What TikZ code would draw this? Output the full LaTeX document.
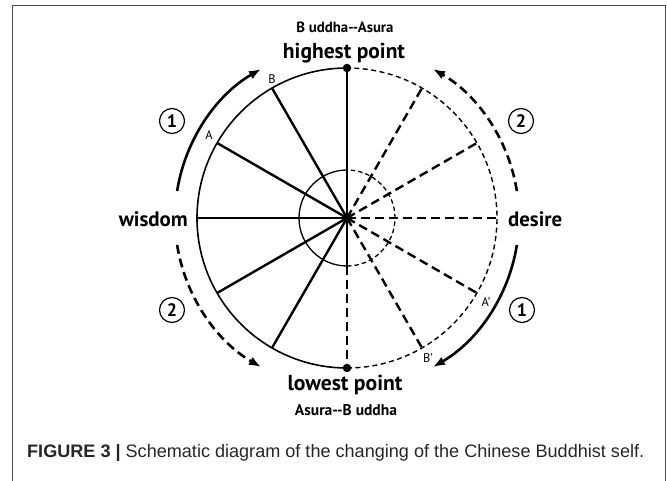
\documentclass[tikz,border=0pt]{standalone}
\usepackage{fontspec}
\usepackage{graphicx}
\setmainfont{PT Sans}
\newfontfamily\capfont{Liberation Sans}
\usetikzlibrary{arrows.meta}
\newcommand{\fitw}[2]{\resizebox{#1}{!}{#2}}
\begin{document}
\begin{tikzpicture}[x=1pt,y=1pt,
  solidspoke/.style={line width=2.4pt},
  dashspoke/.style={line width=2.4pt, dash pattern=on 9pt off 5pt},
  rim/.style={line width=1.6pt},
  dashrim/.style={line width=1.4pt, dash pattern=on 5pt off 3.5pt},
  innerrim/.style={line width=1.3pt},
  flow/.style={line width=2.6pt, -{Latex[length=12pt,width=9pt]}},
  dashflow/.style={line width=2.6pt, dash pattern=on 9pt off 5pt, -{Latex[length=12pt,width=9pt]}},
  bigtext/.style={font=\bfseries\fontsize{18}{20}\selectfont, inner sep=0pt},
  smalltext/.style={font=\bfseries\fontsize{11.5}{13}\selectfont, inner sep=0pt},
  ptlabel/.style={font=\fontsize{12.5}{13}\selectfont, inner sep=0pt},
  circnum/.style={circle, draw, line width=1.2pt, minimum size=25pt, inner sep=0pt, font=\bfseries\fontsize{18}{19}\selectfont},
  dotnode/.style={circle, fill, minimum size=8.5pt, inner sep=0pt},
  framecol/.style={draw=black!70, line width=1pt}
]
\useasboundingbox (0,0) rectangle (667,480);
\draw[framecol] (12,-2) -- (12,474) -- (665,474) -- (665,-2);

\coordinate (C) at (347,262);
\foreach \a in {90,120,150,180,210,240,270,60,30,0,-30,-60}{
  \path (C) ++(\a:150) coordinate (P\a);
}
\path (C) ++(270:48) coordinate (I270);
\path (C) ++(90:48) coordinate (I90);

% rims
\draw[rim] (P90) arc[start angle=90, end angle=270, radius=150];
\draw[dashrim] (P270) arc[start angle=-90, end angle=90, radius=150];
\draw[innerrim] (I90) arc[start angle=90, end angle=270, radius=48];
\draw[innerrim, dash pattern=on 4.5pt off 3pt] (I270) arc[start angle=-90, end angle=90, radius=48];

% spokes
\foreach \a in {90,120,150,180,210,240}{
  \draw[solidspoke] (C) -- (P\a);
}
\draw[solidspoke] (C) -- (I270);
\draw[dashspoke] (I270) -- (P270);
\foreach \a in {60,30,0,-30,-60}{
  \draw[dashspoke] (C) -- (P\a);
}

% dots
\node[dotnode] (top) at (P90) {};
\node[dotnode] (bottom) at (P270) {};

% flow arrows
\path (C) ++(171:172) coordinate (L1s);
\path (C) ++(189:172) coordinate (L2s);
\path (C) ++(9:172) coordinate (R2s);
\path (C) ++(-9:172) coordinate (R1s);
\draw[flow] (L1s) arc[start angle=171, end angle=120, radius=172];
\draw[dashflow] (L2s) arc[start angle=189, end angle=240, radius=172];
\draw[dashflow] (R2s) arc[start angle=9, end angle=60, radius=172];
\draw[flow] (R1s) arc[start angle=-9, end angle=-60, radius=172];

% circled numbers
\node[circnum] (n1l) at (172,359) {1};
\node[circnum] (n2r) at (521,359) {2};
\node[circnum] (n2l) at (172,170) {2};
\node[circnum] (n1r) at (522,170) {1};

% point labels
\node[ptlabel] (lB) at (272,401) {B};
\node[ptlabel] (lA) at (209,345) {A};
\node[ptlabel] (lA2) at (486,178) {A’};
\node[ptlabel] (lB2) at (428,122) {B’};

% texts
\node[smalltext, anchor=base] (ba) at (345,447) {\fitw{97pt}{B uddha{-}{-}Asura}};
\node[bigtext, anchor=base] (hp) at (344,421) {\fitw{122pt}{highest point}};
\node[bigtext, anchor=base] (lp) at (345,90) {\fitw{115pt}{lowest point}};
\node[smalltext, anchor=base] (ab) at (346,65) {\fitw{102pt}{Asura{-}{-}B uddha}};
\node[bigtext, anchor=base east] (wis) at (188,253) {\fitw{69pt}{wisdom}};
\node[bigtext, anchor=base west] (des) at (508,253) {\fitw{54pt}{desire}};

% caption
\node[anchor=base west, inner sep=0pt, text=black!85, font=\capfont\fontsize{14}{16}\selectfont] (cap) at (27,23) {\fitw{617pt}{\textbf{FIGURE 3 |} Schematic diagram of the changing of the Chinese Buddhist self.}};
\end{tikzpicture}
\end{document}
